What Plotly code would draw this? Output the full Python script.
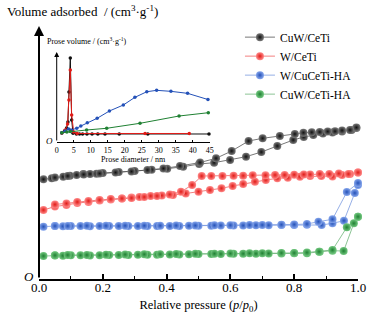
import plotly.graph_objects as go

# ---------------- main isotherm data (relative pressure, volume in arbitrary units) -------------
cuw_ceti_ads_p = [0.014, 0.04, 0.076, 0.097, 0.118, 0.139, 0.16, 0.18, 0.2, 0.25, 0.30, 0.353, 0.402, 0.452,
                  0.502, 0.549, 0.599, 0.649, 0.697, 0.747, 0.797, 0.83, 0.86, 0.89, 0.92, 0.95, 0.98, 0.995]
cuw_ceti_ads_v = [99.7, 100.7, 102.3, 103.3, 104, 105, 105, 105.3, 106, 107, 108, 109.3, 110.3, 112.3,
                  115, 116.3, 119, 122.3, 127, 133, 139, 142, 144, 145.5, 146.5, 147.5, 149, 151]
cuw_ceti_des_p = [0.995, 0.975, 0.95, 0.928, 0.905, 0.88, 0.855, 0.829, 0.802, 0.755, 0.701, 0.657, 0.604,
                  0.555, 0.505, 0.442, 0.39, 0.34, 0.29, 0.24, 0.19, 0.14, 0.09, 0.05]
cuw_ceti_des_v = [151.5, 149, 148.5, 147.7, 147.5, 147, 146.7, 146.3, 145, 143, 140.7, 138, 128,
                  120.7, 116.5, 113, 110.5, 109, 107.5, 106.5, 105.5, 104.5, 103, 101.5]

w_ceti_ads_p = [0.014, 0.05, 0.086, 0.12, 0.155, 0.19, 0.225, 0.26, 0.29, 0.315, 0.35, 0.385, 0.42, 0.46,
                0.5, 0.536, 0.572, 0.607, 0.64, 0.677, 0.711, 0.747, 0.78, 0.818, 0.85, 0.885, 0.92, 0.95,
                0.975, 1.0]
w_ceti_ads_v = [69, 72.5, 74, 76, 77, 78.5, 79.5, 80.5, 81.5, 82, 83, 83.5, 84, 85.5,
                87.3, 89, 90.7, 93, 95, 97.3, 99, 100.7, 101.3, 102.3, 103, 103, 102.5, 104,
                105, 106.5]
w_ceti_des_p = [1.0, 0.97, 0.94, 0.91, 0.88, 0.85, 0.83, 0.8, 0.77, 0.74, 0.71, 0.67, 0.64, 0.61, 0.575,
                0.54, 0.51, 0.48, 0.445, 0.41, 0.37, 0.33, 0.29, 0.26, 0.225, 0.19, 0.155, 0.12, 0.086,
                0.05]
w_ceti_des_v = [106.5, 105, 105.5, 105, 105, 104.5, 104.5, 104.3, 104, 104, 103.7, 103.7, 103.3, 103.3, 103,
                103, 103, 94, 87.3, 84.5, 83, 82, 81, 80.5, 80, 79, 78, 77, 75.5,
                74.5]

w_cuceti_ha_ads_p = [0.014, 0.05, 0.075, 0.1, 0.13, 0.16, 0.19, 0.22, 0.25, 0.28, 0.31, 0.34, 0.37, 0.41,
                     0.44, 0.47, 0.5, 0.54, 0.57, 0.61, 0.64, 0.68, 0.72, 0.76, 0.8, 0.84, 0.886, 0.92,
                     0.956, 0.99, 1.0]
w_cuceti_ha_ads_v = [52.3, 53, 52.7, 53, 53, 52.7, 53, 53, 53, 53, 53, 53, 53, 53,
                     53, 53.2, 53.3, 53.3, 53.5, 53.5, 53.5, 53.7, 53.8, 54, 54, 54.2, 54, 55.7,
                     58.3, 86, 94]
w_cuceti_ha_des_p = [1.0, 0.965, 0.92, 0.876, 0.84, 0.8, 0.76, 0.7, 0.66, 0.6, 0.55, 0.49, 0.43, 0.38,
                     0.33, 0.27, 0.21, 0.15, 0.09, 0.05]
w_cuceti_ha_des_v = [96, 87, 59.7, 57.3, 55, 54.5, 54.3, 54, 54, 53.8, 53.7, 53.5, 53.5, 53.3,
                     53.3, 53.3, 53.2, 53.2, 53, 53]

cuw_ceti_ha_ads_p = [0.014, 0.05, 0.075, 0.1, 0.13, 0.16, 0.19, 0.22, 0.25, 0.28, 0.31, 0.34, 0.37, 0.41,
                     0.44, 0.47, 0.5, 0.54, 0.57, 0.61, 0.64, 0.68, 0.72, 0.76, 0.8, 0.84, 0.88, 0.92,
                     0.955, 0.987, 1.0]
cuw_ceti_ha_ads_v = [23, 23.5, 23.3, 23.7, 23.7, 23.5, 23.8, 24, 24, 24, 24.2, 24.2, 24.3, 24.5,
                     24.5, 24.7, 25, 25, 25, 25.2, 25.3, 25.3, 25.5, 25.5, 25.7, 25.7, 27.3, 28.3,
                     28, 55.7, 62.3]
cuw_ceti_ha_des_p = [1.0, 0.965, 0.92, 0.878, 0.84, 0.8, 0.76, 0.7, 0.66, 0.6, 0.55, 0.49, 0.43, 0.38,
                     0.33, 0.27, 0.21, 0.15, 0.09, 0.05]
cuw_ceti_ha_des_v = [62.3, 51.7, 29, 27.3, 26.5, 26, 26, 25.8, 25.7, 25.5, 25.3, 25.2, 25, 24.8,
                     24.7, 24.5, 24.3, 24, 24, 23.7]

# ---------------- inset pore size distribution (pore diameter nm, pore volume arbitrary) -------------
psd_cuw_ceti_d = [1.5, 2.3, 2.9, 3.3, 3.6, 4.0, 4.4, 4.8, 5.8, 6.7, 7.6, 8.9, 10.4, 12.1, 14.2, 18.4, 26.8, 44.8]
psd_cuw_ceti_v = [9, 11, 14, 20, 50, 84, 22, 8.7, 8, 8, 8, 8, 8, 8, 8, 8, 8, 8]
psd_w_ceti_d = [1.5, 2.5, 3.2, 3.6, 4.0, 4.4, 5.0, 6.0, 26.0, 39.0]
psd_w_ceti_v = [9, 12, 18, 42, 72, 27, 10, 8.5, 8.5, 8.5]
psd_w_cuceti_ha_d = [1.5, 2.5, 3.5, 4.2, 5.9, 7.1, 9.0, 11.9, 15.5, 19.6, 23.0, 26.5, 29.4, 33.6, 38.5, 44.5]
psd_w_cuceti_ha_v = [9.3, 11, 13, 12, 13.7, 16, 19.3, 23.7, 31, 37, 44.7, 50.3, 51.7, 50.7, 48.7, 42.5]
psd_cuw_ceti_ha_d = [1.5, 3.0, 4.0, 8.8, 14.7, 24.5, 36.0, 44.6]
psd_cuw_ceti_ha_v = [9.3, 10, 10.5, 12, 13.7, 18.7, 26, 29.3]

series_names = ["CuW/CeTi", "W/CeTi", "W/CuCeTi-HA", "CuW/CeTi-HA"]
marker_colors = ["#101010", "#e01b17", "#2451b8", "#1f8032"]
marker_highlights = ["#7a7a7a", "#ff8a8a", "#86a6ec", "#72c77f"]
line_colors = ["#555555", "#f06060", "#7b9be0", "#6fb57a"]

x_ticks = [0.0, 0.2, 0.4, 0.6, 0.8, 1.0]
inset_ticks = [0, 5, 10, 15, 20, 25, 30, 35, 40, 45]

SERIF = "Liberation Serif, Times New Roman, serif"

main_data = [
    (cuw_ceti_ads_p, cuw_ceti_ads_v, cuw_ceti_des_p, cuw_ceti_des_v),
    (w_ceti_ads_p, w_ceti_ads_v, w_ceti_des_p, w_ceti_des_v),
    (w_cuceti_ha_ads_p, w_cuceti_ha_ads_v, w_cuceti_ha_des_p, w_cuceti_ha_des_v),
    (cuw_ceti_ha_ads_p, cuw_ceti_ha_ads_v, cuw_ceti_ha_des_p, cuw_ceti_ha_des_v),
]
inset_data = [
    (psd_cuw_ceti_d, psd_cuw_ceti_v),
    (psd_w_ceti_d, psd_w_ceti_v),
    (psd_w_cuceti_ha_d, psd_w_cuceti_ha_v),
    (psd_cuw_ceti_ha_d, psd_cuw_ceti_ha_v),
]

fig = go.Figure()

for i, (ap, av, dp, dv) in enumerate(main_data):
    fig.add_trace(go.Scatter(
        x=ap + dp, y=av + dv, mode="lines+markers", name=series_names[i],
        line=dict(color=line_colors[i], width=0.8),
        marker=dict(size=8, color=marker_highlights[i], line=dict(width=0),
                    gradient=dict(type="radial", color=marker_colors[i])),
        cliponaxis=False, xaxis="x", yaxis="y",
    ))

for i, (d, v) in enumerate(inset_data):
    fig.add_trace(go.Scatter(
        x=d, y=v, mode="lines+markers", showlegend=False,
        line=dict(color=marker_colors[i], width=1),
        marker=dict(size=3.5, color=marker_colors[i]),
        cliponaxis=False, xaxis="x2", yaxis="y2",
    ))

fig.update_layout(
    width=372, height=318,
    margin=dict(l=39, r=14, t=19, b=39, autoexpand=False),
    paper_bgcolor="white", plot_bgcolor="rgba(0,0,0,0)",
    font=dict(family=SERIF, color="black", size=13),
    xaxis=dict(
        domain=[0, 1], range=[0, 1], anchor="y", automargin=False,
        showline=True, linewidth=2, linecolor="black", showgrid=False, zeroline=False,
        ticks="inside", ticklen=5, tickwidth=1.5, tickcolor="black",
        tickvals=x_ticks, ticktext=[f"{t:.1f}" for t in x_ticks],
        minor=dict(dtick=0.1, ticks="inside", ticklen=3, tickwidth=1, tickcolor="black"),
        tickfont=dict(size=13, family=SERIF), ticklabelstandoff=-5,
        title=dict(text="Relative pressure (<i>p</i>/<i>p</i><sub>0</sub>)",
                   font=dict(size=12.5, family=SERIF), standoff=7),
    ),
    yaxis=dict(
        domain=[0, 1], range=[0, 260], anchor="x", automargin=False,
        showline=False, showgrid=False, zeroline=False, showticklabels=False, ticks="",
    ),
    xaxis2=dict(
        domain=[0.0555, 0.535], range=[0, 45], anchor="y2", automargin=False,
        showline=True, linewidth=1, linecolor="black", showgrid=False, zeroline=False,
        ticks="inside", ticklen=2, tickwidth=1, tickcolor="black",
        tickvals=inset_ticks, tickfont=dict(size=8, family=SERIF),
        title=dict(text="Prose diameter / nm", font=dict(size=8, family=SERIF), standoff=2),
    ),
    yaxis2=dict(
        domain=[0.527, 0.892], range=[0, 95], anchor="x2", automargin=False,
        showline=False, showgrid=False, zeroline=False, showticklabels=False, ticks="",
    ),
    legend=dict(
        x=0.63, y=0.986, xanchor="left", yanchor="top",
        font=dict(size=11.5, family=SERIF), bgcolor="rgba(0,0,0,0)",
        itemwidth=30, tracegroupgap=0,
    ),
    showlegend=True,
)

# axis arrows
fig.add_annotation(x=0, y=253, ax=0, ay=0, xref="x", yref="y", axref="x", ayref="y",
                   showarrow=True, arrowhead=2, arrowsize=1, arrowwidth=2, arrowcolor="black", text="")
fig.add_annotation(x=0, y=90, ax=0, ay=0, xref="x2", yref="y2", axref="x2", ayref="y2",
                   showarrow=True, arrowhead=2, arrowsize=1, arrowwidth=1, arrowcolor="black", text="")

# texts
fig.add_annotation(x=-0.107, y=1.032, xref="paper", yref="paper", xanchor="left", yanchor="middle",
                   text="Volume adsorbed  / (cm<sup>3</sup>·g<sup>-1</sup>)", showarrow=False,
                   font=dict(size=13, family=SERIF))
fig.add_annotation(x=0.0188, y=0.915, xref="paper", yref="paper", xanchor="left", yanchor="middle",
                   text="Prose volume / (cm<sup>3</sup>·g<sup>-1</sup>)", showarrow=False,
                   font=dict(size=8, family=SERIF))
fig.add_annotation(x=-0.008, y=0.011, xref="paper", yref="paper", xanchor="right", yanchor="middle",
                   text="<i>O</i>", showarrow=False, font=dict(size=13, family=SERIF))
fig.add_annotation(x=0.05, y=0.531, xref="paper", yref="paper", xanchor="right", yanchor="middle",
                   text="<i>O</i>", showarrow=False, font=dict(size=9, family=SERIF))

fig.write_html("out.html", config={"displayModeBar": False},
               post_script="document.body.style.margin='0';")
